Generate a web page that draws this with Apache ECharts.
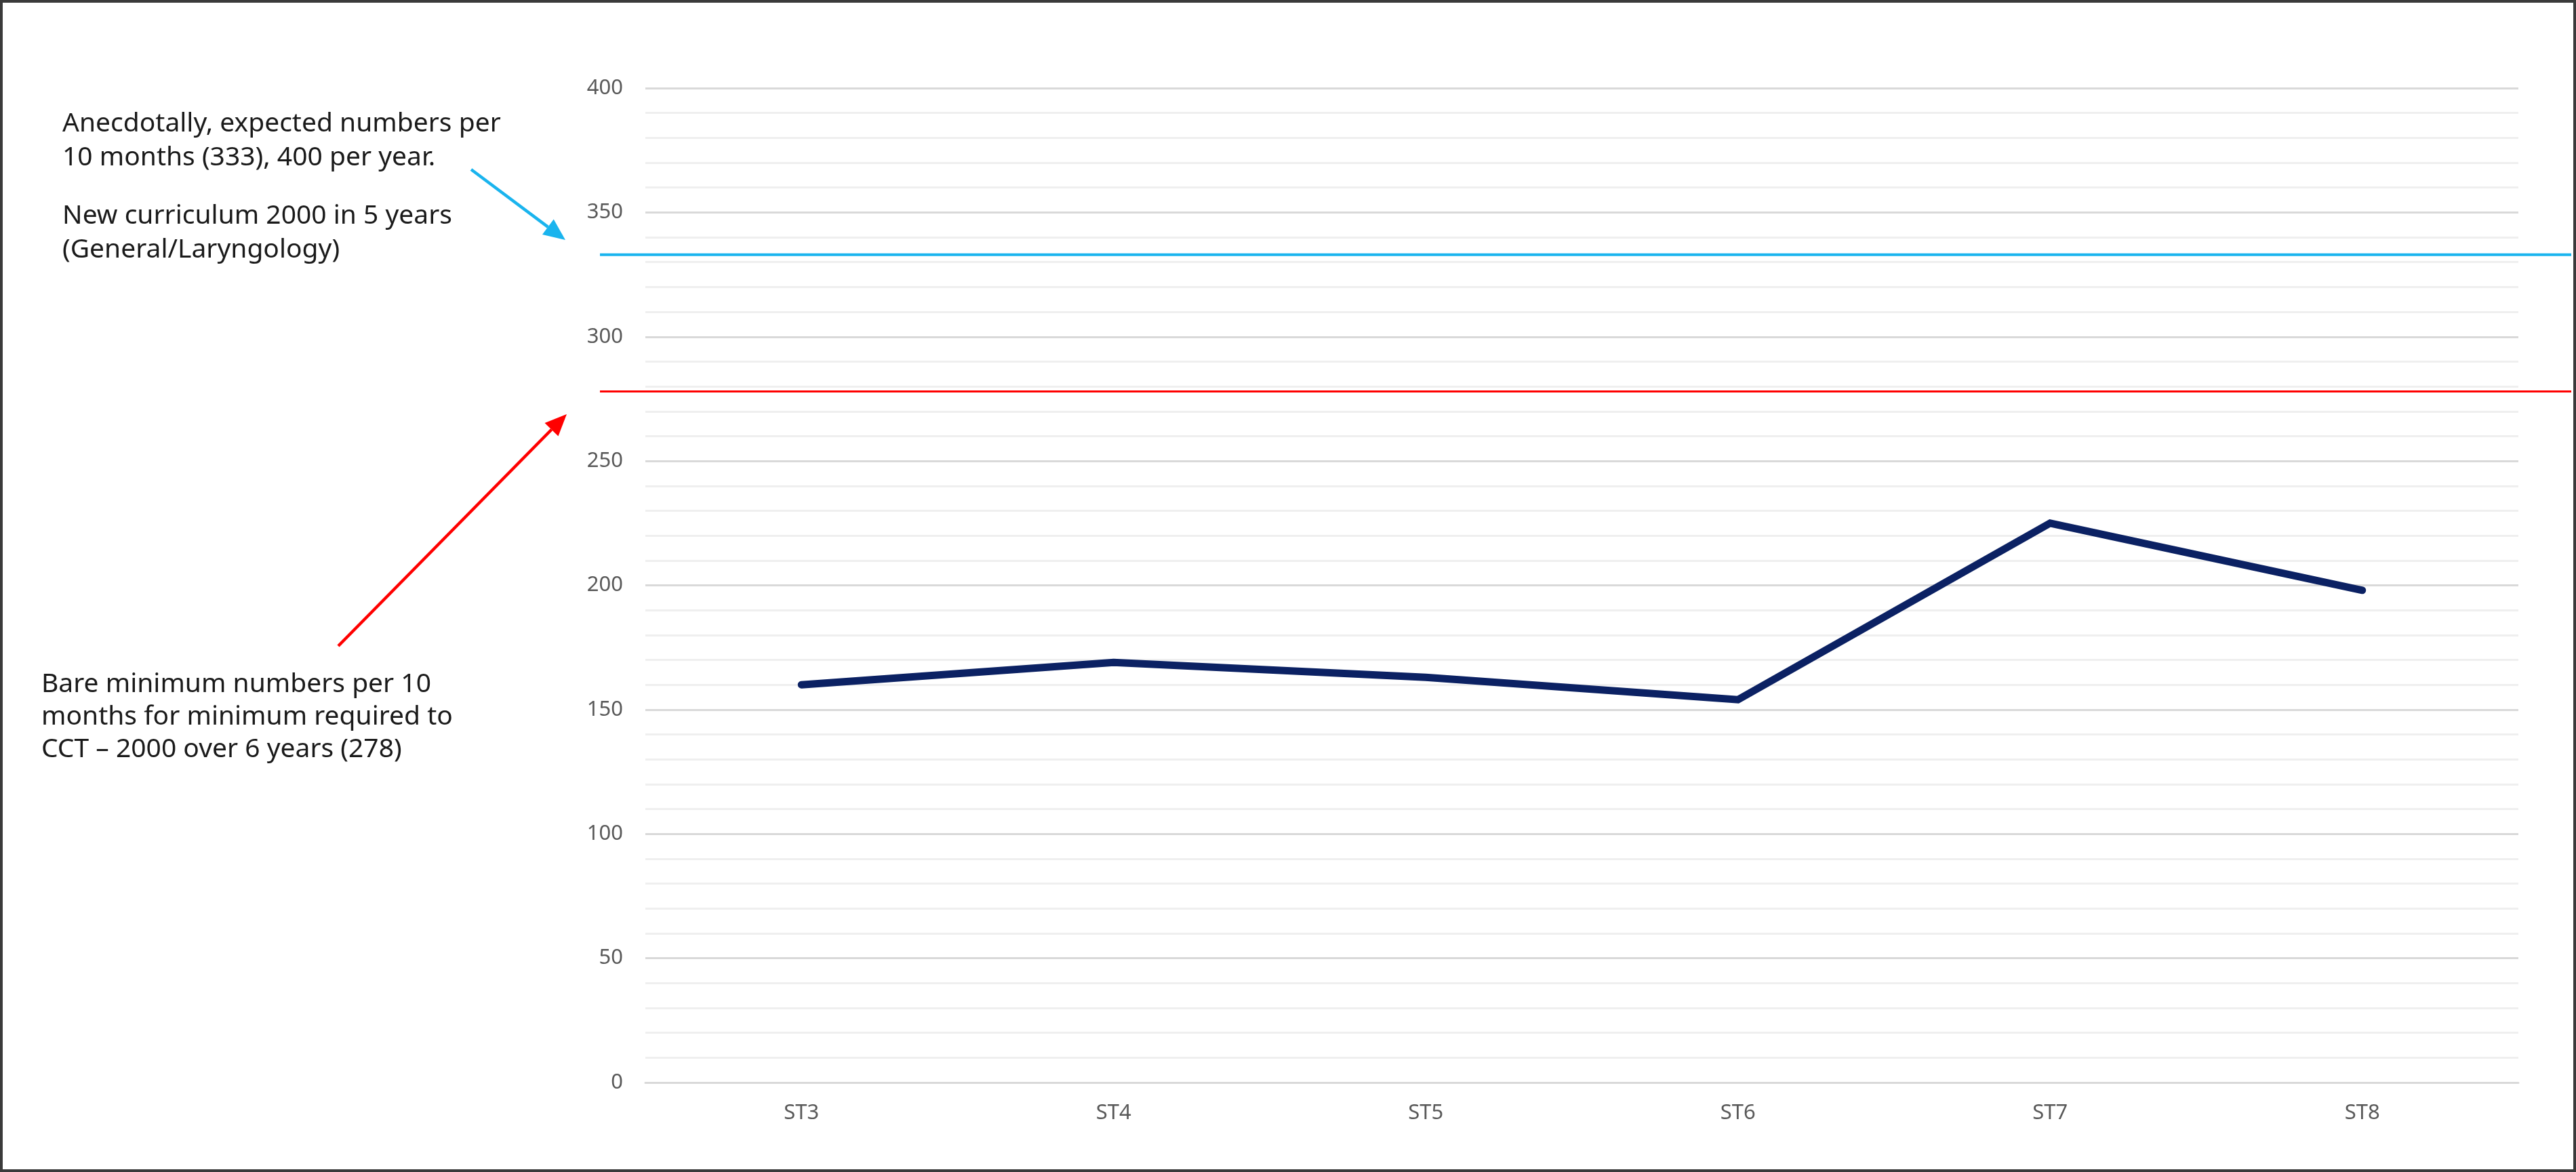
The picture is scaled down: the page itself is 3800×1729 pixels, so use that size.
<!DOCTYPE html>
<html>
<head>
<meta charset="utf-8">
<script src="https://cdn.jsdelivr.net/npm/echarts@6/dist/echarts.min.js"></script>
<style>
html,body{margin:0;padding:0;background:#fff;}
#chart{width:3800px;height:1729px;}
</style>
</head>
<body>
<div id="chart"></div>
<script>
const categories = ['ST3', 'ST4', 'ST5', 'ST6', 'ST7', 'ST8'];
const values = [160, 169, 163, 154, 225, 198];
const expectedLevel = 333;
const minimumLevel = 278;
const yMin = 0, yMax = 400, yInterval = 50;

const blueNote = ['Anecdotally, expected numbers per', '10 months (333), 400 per year.'];
const blueNote2 = ['New curriculum 2000 in 5 years', '(General/Laryngology)'];
const redNote = ['Bare minimum numbers per 10', 'months for minimum required to', 'CCT \u2013 2000 over 6 years (278)'];

const FONT = '"Noto Sans", "Open Sans", sans-serif';
const chart = echarts.init(document.getElementById('chart'), null, {renderer: 'canvas'});

function arrow(x1, y1, x2, y2, color) {
  const ang = Math.atan2(y2 - y1, x2 - x1);
  const L = 32, W = 14;
  const bx = x2 - L * Math.cos(ang), by = y2 - L * Math.sin(ang);
  const px = -Math.sin(ang), py = Math.cos(ang);
  return [
    {type: 'line', shape: {x1: x1, y1: y1, x2: bx, y2: by}, style: {stroke: color, lineWidth: 4.5}, z: 10},
    {type: 'polygon', shape: {points: [[x2, y2], [bx + px * W, by + py * W], [bx - px * W, by - py * W]]}, style: {fill: color}, z: 10}
  ];
}

const textStyleBase = {fill: '#1a1a1a', font: '39px ' + FONT, lineHeight: 50};

chart.setOption({
  animation: false,
  backgroundColor: '#ffffff',
  grid: [
    {left: 952, right: 85, top: 130, bottom: 132, containLabel: false},
    {left: 885, right: 7, top: 130, bottom: 132, containLabel: false}
  ],
  xAxis: [
    {
      gridIndex: 0, type: 'category', data: categories, boundaryGap: true,
      axisLine: {show: true, lineStyle: {color: '#d9d9d9', width: 3}},
      axisTick: {show: false},
      axisLabel: {color: '#595959', fontSize: 31, fontFamily: FONT, margin: 30}
    },
    {gridIndex: 1, type: 'value', min: 0, max: 1, show: false}
  ],
  yAxis: [
    {
      gridIndex: 0, type: 'value', min: yMin, max: yMax, interval: yInterval,
      axisLine: {show: false}, axisTick: {show: false},
      axisLabel: {color: '#595959', fontSize: 31, fontFamily: FONT, margin: 33},
      splitLine: {show: true, lineStyle: {color: '#d9d9d9', width: 3}},
      minorTick: {show: false, splitNumber: 5},
      minorSplitLine: {show: true, lineStyle: {color: '#efefef', width: 3}}
    },
    {gridIndex: 1, type: 'value', min: yMin, max: yMax, show: false}
  ],
  series: [
    {
      type: 'line', xAxisIndex: 0, yAxisIndex: 0, data: values,
      symbol: 'none', z: 5,
      lineStyle: {color: '#0b2163', width: 11, cap: 'round', join: 'miter'}
    },
    {
      type: 'line', xAxisIndex: 1, yAxisIndex: 1,
      data: [[0, expectedLevel], [1, expectedLevel]],
      symbol: 'none', z: 4,
      lineStyle: {color: '#1ab4ee', width: 4}
    },
    {
      type: 'line', xAxisIndex: 1, yAxisIndex: 1,
      data: [[0, minimumLevel], [1, minimumLevel]],
      symbol: 'none', z: 4,
      lineStyle: {color: '#ff0000', width: 3}
    }
  ],
  graphic: [
    {type: 'rect', shape: {x: 2, y: 2, width: 3796, height: 1725}, style: {fill: 'none', stroke: '#3a3a3a', lineWidth: 4}, z: 20},
    {type: 'text', left: 92, top: 158, style: Object.assign({text: blueNote.join('\n')}, textStyleBase)},
    {type: 'text', left: 92, top: 294, style: Object.assign({text: blueNote2.join('\n')}, textStyleBase)},
    {type: 'text', left: 61, top: 986, style: Object.assign({text: redNote.join('\n')}, textStyleBase, {lineHeight: 48})}
  ].concat(arrow(695, 250, 834, 354, '#1ab4ee')).concat(arrow(499, 953, 836, 611, '#ff0000'))
});
</script>
</body>
</html>
